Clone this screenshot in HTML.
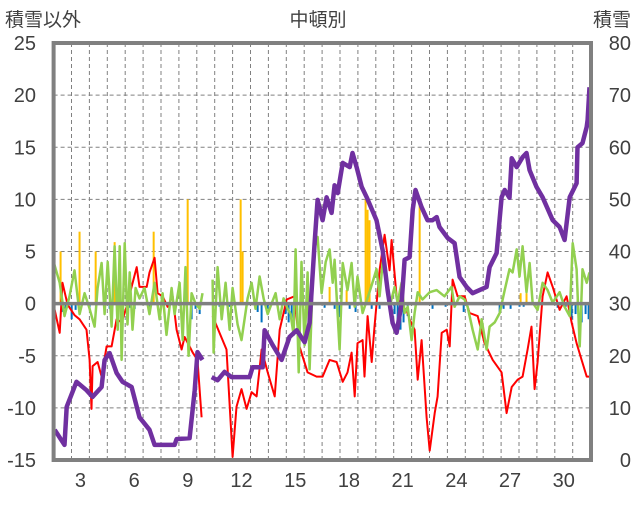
<!DOCTYPE html>
<html><head><meta charset="utf-8"><style>
html,body{margin:0;padding:0;background:#fff;}
svg text{font-family:"Liberation Sans","Noto Sans CJK JP",sans-serif;fill:#404040;}
</style></head><body>
<svg id="chart" width="636" height="501" viewBox="0 0 636 501" xmlns="http://www.w3.org/2000/svg">
<text x="5" y="26" font-size="19">積雪以外</text>
<text x="318" y="26" font-size="19" text-anchor="middle">中頓別</text>
<text x="631" y="26" font-size="19" text-anchor="end">積雪</text>
<g id="grid"></g><g id="bars"></g><g id="lines"></g><g id="frame"></g><g id="ticks"></g>
</svg>
<script>
const leftTicks=[25,20,15,10,5,0,-5,-10,-15];
const rightTicks=[80,70,60,50,40,30,20,10,0];
const dayLabels=[3,6,9,12,15,18,21,24,27,30];
const purpleDays=[1.56,2.11,2.23,2.78,3.34,3.68,4.18,4.35,4.63,5.02,5.35,5.86,6.30,6.86,7.14,8.26,8.37,9.10,9.38,9.54,9.82,null,10.33,10.66,11.05,11.44,12.45,12.62,13.18,13.29,13.73,14.24,14.68,15.08,15.52,15.80,16.08,16.25,16.53,16.75,17.03,17.20,17.37,17.65,18.04,18.20,18.43,18.71,18.99,19.54,19.88,20.16,20.44,20.66,20.94,21.11,21.39,21.56,21.72,22.06,22.39,22.67,22.90,23.06,23.51,23.90,24.18,24.57,24.91,25.69,25.86,26.25,26.53,26.70,26.97,27.09,27.37,27.70,27.92,28.09,28.48,28.82,29.38,29.77,30.05,30.33,30.72,30.77,31.05,31.28,31.33,31.44];
const purpleVals=[5.8,2.9,10.2,15.0,13.4,12.1,14.0,19.2,20.5,16.7,15.0,14.0,8.2,5.8,2.9,2.9,4.0,4.2,13.4,20.7,19.2,null,15.9,15.3,16.9,15.9,15.9,17.8,17.8,24.9,22.1,19.2,23.6,24.9,22.6,26.3,41.6,49.9,46.0,50.4,47.4,52.7,51.2,57.0,56.2,58.9,56.2,52.4,50.4,46.0,40.3,32.6,26.3,24.4,30.1,38.4,38.9,48.0,51.8,48.5,46.0,46.0,46.6,44.7,42.6,41.6,35.1,33.2,32.0,33.2,37.0,39.7,50.4,51.8,50.3,57.9,56.2,58.1,58.9,55.6,52.4,50.4,46.0,44.7,42.2,50.4,53.1,60.0,60.8,63.9,65.2,71.5];
const redDays=[1.56,1.84,2.0,2.28,2.67,2.95,3.34,3.51,3.62,3.68,3.96,4.18,4.46,4.74,5.02,5.30,5.58,5.86,6.14,6.30,6.70,6.86,7.14,7.31,7.59,7.87,8.15,8.37,8.65,8.82,9.10,9.27,9.54,9.77,null,10.38,10.77,11.16,11.50,11.72,12.00,12.28,12.56,12.84,13.12,13.46,13.85,14.13,14.52,14.96,15.24,15.69,16.19,16.53,16.92,17.31,17.65,17.92,18.15,18.32,18.48,18.76,18.87,19.04,19.27,19.43,19.71,19.99,20.27,20.38,20.66,20.94,21.22,21.39,21.67,21.84,22.06,22.34,22.51,22.79,22.95,23.18,23.46,23.63,23.79,24.07,24.46,24.74,25.19,25.58,26.03,26.53,26.81,27.09,27.42,27.70,27.98,28.20,28.37,28.54,28.82,29.10,29.38,29.77,30.16,30.44,30.72,31.00,31.28,31.44];
const redVals=[-0.6,-2.8,2.0,-0.1,-1.1,-1.5,-2.5,-5.4,-10.1,-6.0,-5.6,-7.0,-4.1,-4.1,-1.5,-1.8,-0.3,1.6,3.5,1.6,1.6,3.0,4.4,1.0,0.7,-0.3,0.7,-2.5,-4.4,-3.2,-4.1,-4.7,-5.4,-10.9,null,-1.2,-2.8,-4.4,-14.7,-9.9,-8.2,-10.1,-8.5,-8.9,-4.4,-6.6,-8.9,-2.5,0.4,0.7,-4.1,-6.6,-7.0,-7.0,-5.4,-5.6,-7.5,-6.6,-4.7,-8.9,-3.8,-3.5,-7.0,-1.2,-5.6,-2.2,3.2,6.6,3.2,6.1,0.7,-0.3,-0.6,-1.5,-2.5,-7.3,-3.5,-10.9,-14.1,-10.5,-8.9,-2.8,-2.5,-4.1,2.3,0.7,0.7,-0.9,-1.2,-3.8,-5.4,-6.6,-10.5,-8.0,-7.3,-7.0,-4.4,-2.2,-8.2,-5.6,0.7,3.0,1.6,-0.6,0.7,-1.8,-3.8,-5.4,-7.0,-7.0];
const greenDays=[1.50,1.84,2.11,2.39,2.67,2.95,3.23,3.51,3.79,3.96,4.18,4.35,4.52,4.74,4.91,5.08,5.19,5.30,5.47,5.63,5.75,5.91,6.08,6.30,6.58,6.86,7.14,7.42,7.59,7.81,8.09,8.26,8.54,8.71,8.87,9.04,9.21,9.43,9.66,9.82,null,10.38,10.44,10.66,10.89,11.11,11.33,11.50,11.78,12.00,12.34,12.56,12.78,13.01,13.23,13.46,13.68,13.90,14.13,14.35,14.57,14.74,14.91,15.02,15.19,15.35,15.52,15.69,15.80,16.03,16.25,16.47,16.70,16.92,17.09,17.20,17.48,17.65,17.92,18.15,18.32,18.48,18.76,19.15,19.54,19.71,19.88,20.10,20.27,20.55,20.72,20.94,21.11,21.28,21.50,21.67,21.84,22.11,22.51,22.90,23.34,23.73,23.90,24.18,24.46,24.63,24.91,25.19,25.41,25.69,25.86,26.14,26.42,26.70,26.97,27.14,27.37,27.53,27.70,27.92,28.09,28.26,28.54,28.82,29.10,29.38,29.77,30.05,30.33,30.50,30.72,30.89,31.05,31.28,31.44];
const greenVals=[4.0,2.0,-1.2,0.7,3.2,-1.0,1.0,-0.5,-2.2,1.5,3.9,-1.0,4.0,-2.2,5.5,-2.5,5.5,-5.4,5.8,-2.0,3.0,-2.5,1.5,0.5,1.5,-1.0,2.0,-1.5,1.0,-3.0,1.5,-1.0,2.0,-3.5,3.5,-5.0,1.0,0.0,-0.5,1.0,null,2.3,-4.7,3.5,-1.5,2.0,-2.5,1.5,-2.0,-3.5,0.5,2.0,-0.5,2.6,0.5,-1.0,0.0,1.0,-1.5,0.5,-0.5,-1.0,-3.0,5.2,-6.6,4.0,-4.0,3.0,-6.3,5.0,6.4,1.0,4.0,5.2,2.0,4.2,-4.4,3.9,1.3,3.9,-0.3,2.6,-0.9,1.1,3.3,0.7,3.9,2.0,-0.3,1.6,0.1,2.0,-0.9,-0.3,-3.5,-0.9,1.1,0.4,1.1,1.3,0.7,1.6,-0.3,0.7,0.4,-0.3,-2.5,-4.4,-1.5,-4.4,-2.2,-1.8,-0.9,1.3,3.3,3.0,5.2,2.6,5.5,1.1,3.9,0.1,-0.6,2.0,1.3,0.1,1.1,-0.3,-1.2,5.8,3.3,-4.1,3.3,2.0,3.0];
const barDays=[1.89,2.95,3.85,4.91,7.09,8.99,11.95,12.06,16.92,17.87,18.93,19.04,19.15,21.95,27.59,27.92,30.77,1.95,2.17,2.51,2.73,3.51,4.63,5.75,6.03,6.86,9.21,9.43,9.66,10.77,11.33,12.90,13.12,13.46,14.46,14.63,14.80,14.96,16.64,17.20,17.48,18.04,18.37,19.27,19.71,20.55,20.72,20.88,21.05,21.28,22.67,23.40,24.41,26.42,26.64,27.03,27.53,27.76,29.66,30.11,30.44,30.66,31.00,31.22,31.39];
const barVals=[5,6.9,5,5.9,6.9,10,10,5,1.6,1.3,10,9,8,9.7,1.0,1.0,1.5,-0.8,-0.5,-1.5,-0.6,-0.5,-0.5,-0.4,-0.5,-1.0,-1.5,-0.5,-1.0,-0.3,-0.3,-0.8,-1.8,-0.5,-1.0,-1.8,-1.5,-1.0,-0.4,-0.5,-1.3,-0.5,-0.8,-0.5,-0.5,-1.0,-2.0,-2.5,-1.8,-1.2,-0.5,-0.3,-0.8,-0.8,-0.5,-0.5,-0.3,-0.3,-0.4,-0.3,-1.5,-1.0,-1.8,-1.0,-1.5];

const X0=53.6,DX=17.9,YT=43,YB=460;
const xS=d=>X0+(d-1.5)*DX;
const yL=v=>YT+(25-v)/40*(YB-YT);
const yR=v=>YB-v/80*(YB-YT);
const NS='http://www.w3.org/2000/svg';
function mk(tag,attrs,parent){const e=document.createElementNS(NS,tag);for(const k in attrs)e.setAttribute(k,attrs[k]);document.getElementById(parent).appendChild(e);return e;}
// grid
for(let d=2.5;d<31.5;d+=1){const g=mk('line',{x1:xS(d),x2:xS(d),y1:YT,y2:YB,stroke:'#808080','stroke-width':1,'stroke-dasharray':'4,3'},'grid');

}
leftTicks.forEach(v=>{if(v===25||v===-15||v===0)return;const g=mk('line',{x1:X0,x2:591,y1:yL(v),y2:yL(v),stroke:'#808080','stroke-width':1,'stroke-dasharray':'4,3'},'grid');

});
// bars
barDays.forEach((d,i)=>{const v=barVals[i];const y0=yL(0),y1=yL(v);const r=mk('rect',{x:xS(d)-1,width:2,y:Math.min(y0,y1),height:Math.abs(y1-y0),fill:v>0?'#FFC000':'#0070C0'},'bars');

});
function path(days,vals,ys){let s='',pen=false;days.forEach((d,i)=>{if(d===null||vals[i]===null){pen=false;return;}s+=(pen?'L':'M')+xS(d).toFixed(1)+' '+ys(vals[i]).toFixed(1);pen=true;});return s;}
const red=mk('path',{d:path(redDays,redVals,yL),fill:'none',stroke:'#FF0000','stroke-width':2,'stroke-linejoin':'round'},'lines');


const green=mk('path',{d:path(greenDays,greenVals,yL),fill:'none',stroke:'#92D050','stroke-width':2.5,'stroke-linejoin':'round'},'lines');


const purple=mk('path',{d:path(purpleDays,purpleVals,yR),fill:'none',stroke:'#7030A0','stroke-width':4.5,'stroke-linejoin':'round'},'lines');


// frame
const fr=mk('rect',{x:X0,y:YT,width:591-X0,height:YB-YT,fill:'none',stroke:'#808080','stroke-width':4},'frame');


const zl=mk('line',{x1:X0,x2:591,y1:yL(0),y2:yL(0),stroke:'#808080','stroke-width':3.5},'frame');


// tick labels
leftTicks.forEach(v=>{const t=mk('text',{x:36,y:yL(v)+7,'font-size':20,'text-anchor':'end'},'ticks');t.textContent=v;

});
rightTicks.forEach(v=>{const t=mk('text',{x:631,y:yR(v)+7,'font-size':20,'text-anchor':'end'},'ticks');t.textContent=v;

});
dayLabels.forEach(d=>{const t=mk('text',{x:xS(d),y:487,'font-size':20,'text-anchor':'middle'},'ticks');t.textContent=d;

});
</script>
</body></html>
